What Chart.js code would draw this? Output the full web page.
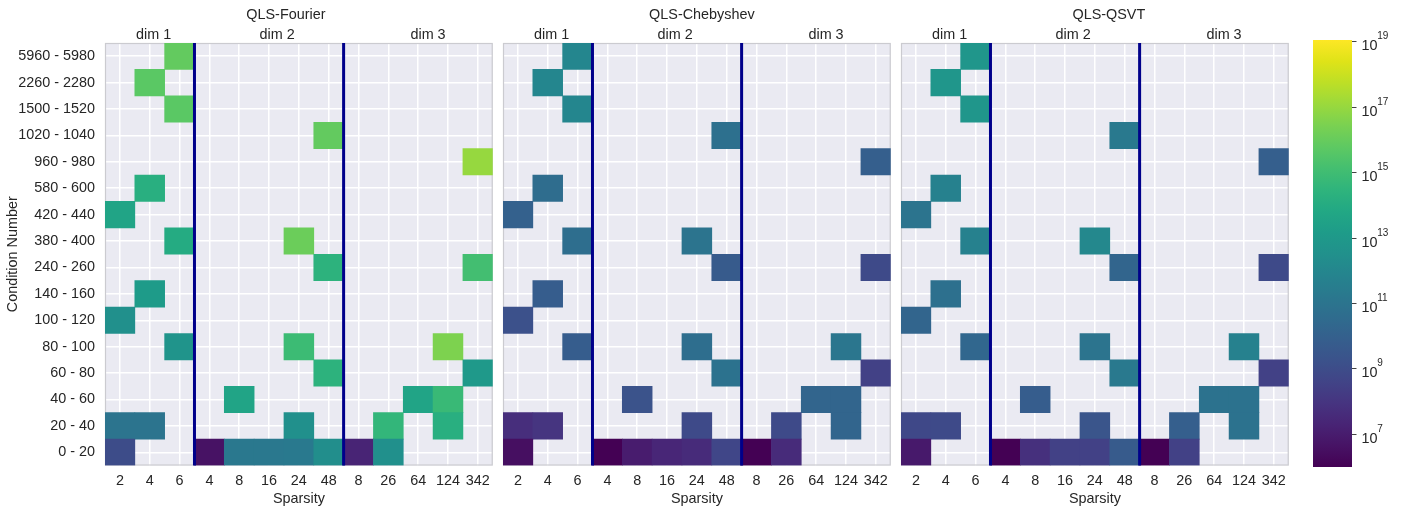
<!DOCTYPE html>
<html><head><meta charset="utf-8">
<script src="https://cdn.jsdelivr.net/npm/chart.js@4.4.1/dist/chart.umd.min.js"></script>
<style>
html,body{margin:0;padding:0;background:#fff;width:1404px;height:508px;overflow:hidden}
canvas{position:absolute;top:0}
</style></head><body>
<canvas id="p1" width="497" height="508" style="left:0px"></canvas>
<canvas id="p2" width="397" height="508" style="left:498px"></canvas>
<canvas id="p3" width="397" height="508" style="left:896px"></canvas>
<canvas id="cb" width="104" height="508" style="left:1300px"></canvas>
<script>
// ---------------- data ----------------
const rowLabels = ['0 - 20','20 - 40','40 - 60','60 - 80','80 - 100','100 - 120','140 - 160','240 - 260',
  '380 - 400','420 - 440','580 - 600','960 - 980','1020 - 1040','1500 - 1520','2260 - 2280','5960 - 5980'];
const colLabels = ['2','4','6','4','8','16','24','48','8','26','64','124','342'];
const dimLabels = ['dim 1','dim 2','dim 3'];
const dimLabelCenters = [1.13, 5.27, 10.33];
const dimBoundaries = [2.5, 7.5];
const panelTitles = ['QLS-Fourier','QLS-Chebyshev','QLS-QSVT'];
const cbarExponents = [7, 9, 11, 13, 15, 17, 19];
const LOG_MIN = 6, LOG_MAX = 19.06;
const _ = null;
// values are log10 of the plotted quantity; rows bottom (0 - 20) to top (5960 - 5980)
const fourierLog10 = [
  [ 9.0, _, _, 6.6,11.2,11.2,11.3,12.4, 7.3,12.5, _, _, _],
  [11.0,11.0, _, _, _, _,12.5, _, _,14.6, _,14.2, _],
  [ _, _, _, _,13.6, _, _, _, _, _,13.6,14.8, _],
  [ _, _, _, _, _, _, _,14.4, _, _, _, _,13.0],
  [ _, _,12.7, _, _, _,14.9, _, _, _, _,16.5, _],
  [12.5, _, _, _, _, _, _, _, _, _, _, _, _],
  [ _,13.1, _, _, _, _, _, _, _, _, _, _, _],
  [ _, _, _, _, _, _, _,14.4, _, _, _, _,15.1],
  [ _, _,14.0, _, _, _,16.1, _, _, _, _, _, _],
  [13.6, _, _, _, _, _, _, _, _, _, _, _, _],
  [ _,14.2, _, _, _, _, _, _, _, _, _, _, _],
  [ _, _, _, _, _, _, _, _, _, _, _, _,17.0],
  [ _, _, _, _, _, _, _,15.9, _, _, _, _, _],
  [ _, _,15.7, _, _, _, _, _, _, _, _, _, _],
  [ _,15.7, _, _, _, _, _, _, _, _, _, _, _],
  [ _, _,15.9, _, _, _, _, _, _, _, _, _, _]
];
const chebyshevLog10 = [
  [ 6.5, _, _, 6.0, 7.0, 7.4, 7.6, 8.7, 6.0, 7.6, _, _, _],
  [ 7.7, 8.0, _, _, _, _, 8.9, _, _, 8.9, _,10.2, _],
  [ _, _, _, _, 9.3, _, _, _, _, _,10.2,10.2, _],
  [ _, _, _, _, _, _, _,10.9, _, _, _, _, 8.5],
  [ _, _, 9.8, _, _, _,10.7, _, _, _, _,11.1, _],
  [ 9.2, _, _, _, _, _, _, _, _, _, _, _, _],
  [ _, 9.8, _, _, _, _, _, _, _, _, _, _, _],
  [ _, _, _, _, _, _, _, 9.7, _, _, _, _, 8.9],
  [ _, _,10.7, _, _, _,11.0, _, _, _, _, _, _],
  [10.0, _, _, _, _, _, _, _, _, _, _, _, _],
  [ _,10.6, _, _, _, _, _, _, _, _, _, _, _],
  [ _, _, _, _, _, _, _, _, _, _, _, _, 9.9],
  [ _, _, _, _, _, _, _,10.8, _, _, _, _, _],
  [ _, _,12.0, _, _, _, _, _, _, _, _, _, _],
  [ _,12.0, _, _, _, _, _, _, _, _, _, _, _],
  [ _, _,12.0, _, _, _, _, _, _, _, _, _, _]
];
const qsvtLog10 = [
  [ 6.9, _, _, 6.0, 7.8, 8.5, 8.5, 9.7, 6.0, 8.5, _, _, _],
  [ 8.8, 8.9, _, _, _, _, 9.4, _, _, 9.9, _,10.9, _],
  [ _, _, _, _, 9.8, _, _, _, _, _,10.9,10.9, _],
  [ _, _, _, _, _, _, _,11.3, _, _, _, _, 8.5],
  [ _, _,10.3, _, _, _,11.0, _, _, _, _,11.7, _],
  [10.2, _, _, _, _, _, _, _, _, _, _, _, _],
  [ _,10.8, _, _, _, _, _, _, _, _, _, _, _],
  [ _, _, _, _, _, _, _,10.2, _, _, _, _, 8.9],
  [ _, _,11.7, _, _, _,12.1, _, _, _, _, _, _],
  [11.0, _, _, _, _, _, _, _, _, _, _, _, _],
  [ _,11.7, _, _, _, _, _, _, _, _, _, _, _],
  [ _, _, _, _, _, _, _, _, _, _, _, _, 9.9],
  [ _, _, _, _, _, _, _,11.3, _, _, _, _, _],
  [ _, _,12.8, _, _, _, _, _, _, _, _, _, _],
  [ _,12.8, _, _, _, _, _, _, _, _, _, _, _],
  [ _, _,12.8, _, _, _, _, _, _, _, _, _, _]
];
const panelData = [fourierLog10, chebyshevLog10, qsvtLog10];
const titleOffsets = [-13, 5, 14];

// ---------------- style ----------------
const FONT = '"Liberation Sans", Arial, sans-serif';
const FS = 14.4;
const TEXT = '#262626';
const BG = '#EAEAF2';
const VIRIDIS = ['#440154','#471365','#482475','#463480','#414487','#3b528b','#355f8d','#2f6c8e','#2a788e',
  '#25848e','#21918c','#1e9c89','#22a884','#2fb47c','#44bf70','#5ec962','#7ad151','#9bd93c','#bddf26','#dfe318','#fde725'];
function hex2rgb(h){return [parseInt(h.slice(1,3),16),parseInt(h.slice(3,5),16),parseInt(h.slice(5,7),16)];}
const VRGB = VIRIDIS.map(hex2rgb);
function viridis(t){
  t = Math.max(0, Math.min(1, t));
  const x = t*(VRGB.length-1); const i = Math.min(Math.floor(x), VRGB.length-2); const f = x-i;
  const a = VRGB[i], b = VRGB[i+1];
  return 'rgb(' + [0,1,2].map(k => Math.round(a[k]+(b[k]-a[k])*f)).join(',') + ')';
}
function norm(v){ return (v-LOG_MIN)/(LOG_MAX-LOG_MIN); }

function rowDatasets(matrix){
  return rowLabels.map((lab, r) => ({
    label: lab, xAxisID:'x', yAxisID:'y', grouped:false,
    categoryPercentage:1, barPercentage:1, borderWidth:0, borderSkipped:false,
    data: matrix[r].map(v => v === null ? null : [r, r+1]),
    backgroundColor: matrix[r].map(v => v === null ? 'rgba(0,0,0,0)' : viridis(norm(v)))
  }));
}

function panelPlugin(idx){
  return {
    id:'deco'+idx,
    beforeDraw(chart){
      const a = chart.chartArea, c = chart.ctx;
      c.save(); c.fillStyle = BG; c.fillRect(a.left, a.top, a.right-a.left, a.bottom-a.top); c.restore();
    },
    beforeDatasetsDraw(chart){
      const a = chart.chartArea, c = chart.ctx;
      c.save(); c.strokeStyle = '#cbcbd0'; c.lineWidth = 1.2;
      c.strokeRect(a.left+0.5, a.top+0.5, a.right-a.left-1, a.bottom-a.top-1); c.restore();
    },
    afterDatasetsDraw(chart){
      const a = chart.chartArea, c = chart.ctx, sx = chart.scales.x;
      c.save(); c.strokeStyle = '#00008b'; c.lineWidth = 3;
      dimBoundaries.forEach(b => { const x = sx.getPixelForValue(b);
        c.beginPath(); c.moveTo(x, a.top); c.lineTo(x, a.bottom); c.stroke(); });
      c.restore();
    },
    afterDraw(chart){
      const a = chart.chartArea, c = chart.ctx;
      c.save(); c.fillStyle = TEXT; c.font = FS + 'px ' + FONT; c.textAlign = 'center'; c.textBaseline = 'middle';
      c.fillText(panelTitles[idx], (a.left+a.right)/2 + titleOffsets[idx], 15.5); c.restore();
    }
  };
}

function makePanel(id, idx, showY, yWidth){
  new Chart(document.getElementById(id), {
    type:'bar',
    data:{ labels: colLabels, datasets: rowDatasets(panelData[idx]) },
    options:{
      responsive:false, animation:false, events:[],
      layout:{padding:{left:0, right:4, top:0, bottom:0}},
      plugins:{legend:{display:false}, tooltip:{enabled:false}},
      scales:{
        x:{type:'category', position:'bottom', offset:true,
          grid:{display:true, offset:false, color:'#ffffff', lineWidth:1.5, drawTicks:false},
          border:{display:false},
          ticks:{color:TEXT, font:{family:FONT, size:FS}, padding:7, autoSkip:false, maxRotation:0},
          title:{display:true, text:'Sparsity', color:TEXT, font:{family:FONT, size:FS}, padding:{top:0, bottom:0}},
          afterFit:(s)=>{ s.height = 42.5; }},
        x2:{type:'linear', position:'top', min:-0.5, max:12.5, offset:false, beginAtZero:false,
          grid:{display:false, offset:false, drawTicks:false, tickLength:0}, border:{display:false},
          afterBuildTicks:(s)=>{ s.ticks = dimLabelCenters.map(v => ({value:v})); },
          ticks:{color:TEXT, font:{family:FONT, size:FS}, padding:-1, autoSkip:false, maxRotation:0,
            callback:(v, i)=>dimLabels[i]},
          afterFit:(s)=>{ s.height = 43; }},
        y:{type:'linear', position:'left', min:0, max:16,
          afterBuildTicks:(s)=>{ s.ticks = rowLabels.map((l, k) => ({value:k+0.5})); },
          grid:{color:'#ffffff', lineWidth:1.5, drawTicks:false}, border:{display:false},
          ticks:{display:showY, color:TEXT, font:{family:FONT, size:FS}, padding:10, autoSkip:false,
            callback:(v, i)=>rowLabels[i]},
          title:{display:showY, text:'Condition Number', color:TEXT, font:{family:FONT, size:FS}, padding:{top:4, bottom:0}},
          afterFit:(s)=>{ s.width = yWidth; }}
      }
    },
    plugins:[panelPlugin(idx)]
  });
}
makePanel('p1', 0, true, 105);
makePanel('p2', 1, false, 5);
makePanel('p3', 2, false, 5);

// ---------------- colorbar ----------------
const cbarPlugin = {
  id:'cbar',
  beforeDatasetsDraw(chart){
    const s = chart.scales.y, a = chart.chartArea, c = chart.ctx;
    const yTop = s.getPixelForValue(Math.pow(10, LOG_MAX)), yBot = s.getPixelForValue(Math.pow(10, LOG_MIN));
    const g = c.createLinearGradient(0, yBot, 0, yTop);
    VIRIDIS.forEach((col, i) => g.addColorStop(i/(VIRIDIS.length-1), col));
    c.save(); c.fillStyle = g; c.fillRect(a.left, yTop, a.right-a.left, yBot-yTop); c.restore();
  },
  afterDraw(chart){
    const s = chart.scales.y, c = chart.ctx;
    c.save(); c.fillStyle = TEXT; c.textAlign = 'left'; c.textBaseline = 'alphabetic';
    cbarExponents.forEach(e => {
      const y = s.getPixelForValue(Math.pow(10, e));
      c.font = FS + 'px ' + FONT; c.fillText('10', s.left + 9.5, y + 8.5);
      c.font = '10px ' + FONT; c.fillText(String(e), s.left + 25.3, y - 2.5);
    });
    c.restore();
  }
};
new Chart(document.getElementById('cb'), {
  type:'bar', data:{labels:[], datasets:[]},
  options:{
    responsive:false, animation:false, events:[],
    layout:{padding:{left:13, right:0, top:40, bottom:41}},
    plugins:{legend:{display:false}, tooltip:{enabled:false}},
    scales:{
      x:{display:false},
      y:{type:'logarithmic', position:'right', min:Math.pow(10, LOG_MIN), max:Math.pow(10, LOG_MAX),
        afterBuildTicks:(s)=>{ s.ticks = cbarExponents.map(e => ({value:Math.pow(10, e)})); },
        grid:{display:true, drawOnChartArea:false, drawTicks:true, tickLength:4.5, color:'#444444', lineWidth:1},
        border:{display:false},
        ticks:{display:false},
        afterFit:(s)=>{ s.width = 52; }}
    }
  },
  plugins:[cbarPlugin]
});
</script>
</body></html>
